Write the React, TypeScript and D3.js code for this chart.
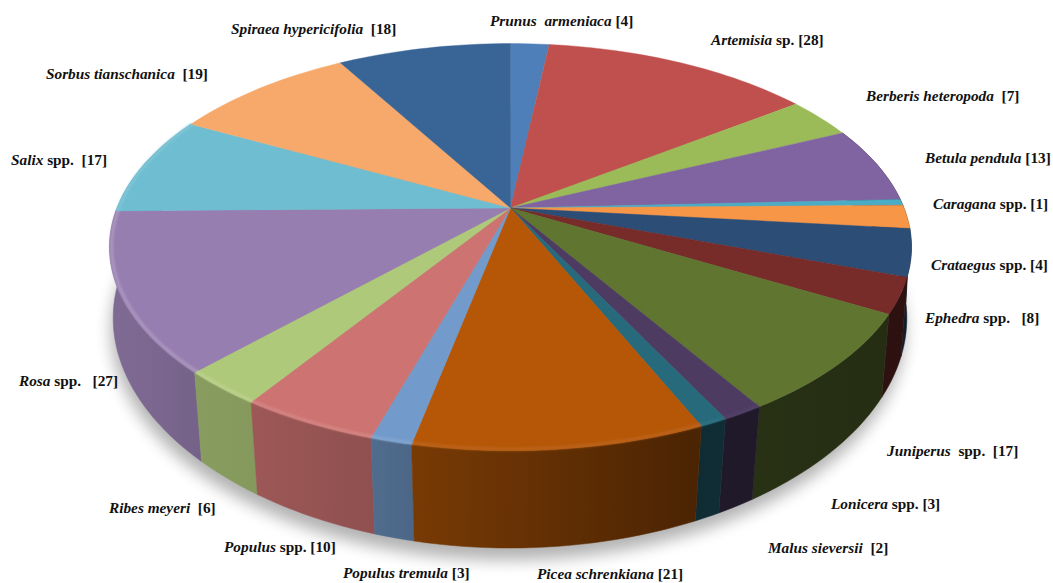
import * as d3 from 'd3'

// slice values, clockwise from 12 o'clock (the dark red slice has no label of its own)
const values = [4, 28, 7, 13, 1, 4, 8, 6, 17, 3, 2, 21, 3, 10, 6, 27, 17, 19, 18]
const colors = [
  '#4f7fb9', '#c0504d', '#9bbb59', '#8064a2', '#4bacc6', '#f79646', '#2c4d75', '#772c2a', '#5f7530', '#4d3b62',
  '#276a7c', '#b65708', '#729aca', '#cd7371', '#afc97a', '#977eb0', '#6fbdd1', '#f6a96b', '#386596',
]

const speciesNames = [
  'Prunus  armeniaca', 'Spiraea hypericifolia', 'Artemisia', 'Sorbus tianschanica', 'Berberis heteropoda', 'Betula pendula',
  'Salix', 'Caragana', 'Crataegus', 'Ephedra', 'Rosa', 'Juniperus', 'Lonicera', 'Ribes meyeri', 'Malus sieversii',
  'Populus', 'Populus tremula', 'Picea schrenkiana',
]
const speciesSuffix = [
  ' ', '  ', ' sp. ', '  ', '  ', ' ', ' spp.  ', ' spp. ', ' spp. ', ' spp.   ', ' spp.   ', '  spp.  ', ' spp. ', '  ', '  ',
  ' spp. ', ' ', ' ',
]
const speciesCounts = [4, 18, 28, 19, 7, 13, 17, 1, 4, 8, 27, 17, 3, 6, 2, 10, 3, 21]
const labelX = [490, 231, 711, 46, 866, 925, 11, 933, 931, 925, 19, 887, 831, 109, 768, 224, 343, 537]
const labelY = [26, 34, 45, 79, 101, 163, 165, 209, 270, 323, 386, 456, 509, 513, 553, 552, 578, 579]

const width = 1053
const height = 583
const deg = 180 / Math.PI

// perspective disc: top face and bottom face of the pie
const k = 0.192
const topFace = { cx: 510.5, cy: 208, a: 393.5, b: 196, kx: 0.192 }
const bottomFace = { cx: 510, cy: 279.7, a: 391, b: 216.8, kx: 0.171 }

type Face = typeof topFace

function project(face: Face, angle: number, r = 1): [number, number] {
  const u = r * Math.sin(angle)
  const v = -r * Math.cos(angle)
  return [face.cx + (face.a * u) / (1 - face.kx * v), face.cy + (face.b * v) / (1 - k * v)]
}

function arcAngles(a0: number, a1: number) {
  const n = Math.max(2, Math.ceil(((a1 - a0) * deg) / 1.5))
  return d3.range(n + 1).map(i => a0 + ((a1 - a0) * i) / n)
}

const line = d3.line()

const pie = d3.pie<number>().sort(null).value(d => d).startAngle(0).endAngle(2 * Math.PI)
const slices = pie(values)

// wall brightness by angle around the pie
const wallShade = d3.scaleLinear()
  .domain([90, 150, 157, 191, 192, 197, 214, 270])
  .range([0.36, 0.42, 0.41, 0.6, 0.68, 0.7, 0.76, 0.84])
  .clamp(true)
const rimLight = d3.scaleLinear().domain([150, 200, 250, 285]).range([0.03, 0.12, 0.2, 0.1]).clamp(true)

function shade(color: string, f: number) {
  const c = d3.rgb(color)
  return d3.rgb(c.r * f, c.g * f, c.b * f).formatHex()
}

// back to front, so nearer walls paint last
const wallOrder = slices
  .map((s, i) => ({ s, i }))
  .filter(({ s }) => s.endAngle * deg > 85 && s.startAngle * deg < 280)
  .sort((p, q) => Math.abs((p.s.startAngle + p.s.endAngle) / 2 - Math.PI) < Math.abs((q.s.startAngle + q.s.endAngle) / 2 - Math.PI) ? 1 : -1)

export default function App() {
  const outline = arcAngles(0, 2 * Math.PI).map(a => project(bottomFace, a))

  return (
    <svg width={width} height={height} style={{ position: 'absolute', left: 0, top: 0, background: '#fff' }}>
      <defs>
        <filter id="shadow" x="-10%" y="-10%" width="120%" height="130%">
          <feGaussianBlur stdDeviation="8" />
        </filter>
        <filter id="soft" x="-5%" y="-5%" width="110%" height="110%">
          <feGaussianBlur stdDeviation="0.8" />
        </filter>
        {wallOrder.map(({ s, i }) => {
          const p0 = project(bottomFace, s.startAngle)
          const p1 = project(bottomFace, s.endAngle)
          return (
            <linearGradient key={i} id={`wall-${i}`} gradientUnits="userSpaceOnUse" x1={p0[0]} x2={p1[0]} y1={0} y2={0}>
              <stop offset="0" stopColor={shade(colors[i], wallShade(s.startAngle * deg))} />
              <stop offset="1" stopColor={shade(colors[i], wallShade(s.endAngle * deg))} />
            </linearGradient>
          )
        })}
      </defs>

      <path d={line(outline) + 'Z'} transform="translate(-2,12)" fill="#000" opacity={0.3} filter="url(#shadow)" />

      <g>
        {wallOrder.map(({ s, i }) => {
          const angles = arcAngles(s.startAngle, s.endAngle)
          const pts = [
            ...angles.map(a => project(topFace, a)),
            ...angles.slice().reverse().map(a => project(bottomFace, a)),
          ]
          return <path key={i} d={line(pts) + 'Z'} fill={`url(#wall-${i})`} stroke={`url(#wall-${i})`} strokeWidth={0.5} />
        })}
      </g>

      <g>
        {slices.map((s, i) => {
          const pts = [[topFace.cx, topFace.cy] as [number, number], ...arcAngles(s.startAngle, s.endAngle).map(a => project(topFace, a))]
          return <path key={i} d={line(pts) + 'Z'} fill={colors[i]} stroke={colors[i]} strokeWidth={0.4} />
        })}
      </g>

      <g filter="url(#soft)" fill="none">
        {slices.map((s, i) => {
          const mid = ((s.startAngle + s.endAngle) / 2) * deg
          if (mid < 150 || mid > 285) return null
          const pts = arcAngles(s.startAngle, s.endAngle).map(a => project(topFace, a, 0.995))
          return (
            <path key={i} d={line(pts) ?? ''} stroke={d3.interpolateRgb(colors[i], '#fff')(rimLight(mid))} strokeWidth={3} />
          )
        })}
      </g>

      <g fontFamily="'Liberation Serif', serif" fontSize={15.3} fontWeight="bold" fill="#111">
        {speciesNames.map((name, i) => (
          <text key={name} x={labelX[i]} y={labelY[i]} xmlSpace="preserve">
            <tspan fontStyle="italic">{name}</tspan>
            <tspan>{`${speciesSuffix[i]}[${speciesCounts[i]}]`}</tspan>
          </text>
        ))}
      </g>
    </svg>
  )
}
